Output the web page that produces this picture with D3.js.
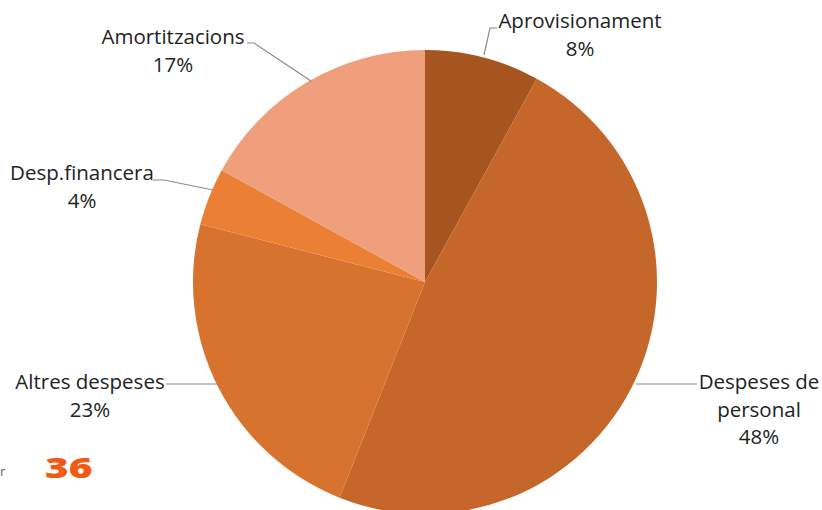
<!DOCTYPE html>
<html><head><meta charset="utf-8">
<script src="https://cdn.jsdelivr.net/npm/d3@7"></script>
<style>
html,body{margin:0;padding:0;background:#fff;overflow:hidden;}
svg{display:block;}
text{font-family:"Open Sans","Noto Sans",sans-serif;fill:#222;}
</style></head>
<body>
<svg id="chart" width="822" height="510"></svg>
<script>
const categories = ["Aprovisionament","Despeses de personal","Altres despeses","Desp.financera","Amortitzacions"];
const values = [8, 48, 23, 4, 17];
const percentLabels = ["8%","48%","23%","4%","17%"];
const colors = ["#A65420","#C5662A","#D8732F","#EB8035","#EF9F7B"];
const labelLines = [["Aprovisionament"],["Despeses de","personal"],["Altres despeses"],["Desp.financera"],["Amortitzacions"]];

const svg = d3.select("#chart");
const cx = 425, cy = 282, R = 232;
const data = categories.map((c,i)=>({name:c, value:values[i], color:colors[i], pct:percentLabels[i], lines:labelLines[i]}));

const pie = d3.pie().value(d=>d.value).sort(null);
const arc = d3.arc().innerRadius(0).outerRadius(R);
const arcs = pie(data);

const g = svg.append("g").attr("transform",`translate(${cx},${cy})`);
g.selectAll("path").data(arcs).join("path")
  .attr("d",arc).attr("fill",d=>d.data.color);

const labelPos = [
  {x:580, y:28, line:[[497,28],[490,28],[484,55]]},
  {x:759, y:389, line:[[697,384],[636,384]]},
  {x:90, y:389, line:[[166,384],[218,384]]},
  {x:82, y:180, line:[[153,180],[164,180],[213,190]]},
  {x:173, y:44, line:[[247,43],[254,43],[311,81]]}
];

const lineGen = d3.line();
arcs.forEach((a,i)=>{
  const p = labelPos[i];
  svg.append("path").attr("d",lineGen(p.line))
    .attr("fill","none").attr("stroke","#8a8a8a").attr("stroke-width",1.2);
  const t = svg.append("text").attr("text-anchor","middle").attr("font-size",20.5);
  const lines = a.data.lines.concat([a.data.pct]);
  lines.forEach((l,j)=>{
    t.append("tspan").attr("x",p.x).attr("y",p.y + j*27.5).text(l);
  });
});

svg.append("text").attr("transform","translate(45,478) scale(1.4,1)")
  .style("font-family","'Open Sans',sans-serif").style("font-weight","800")
  .attr("font-size",29).style("fill","#F25A13").text("36");
svg.append("text").attr("x",0).attr("y",476).attr("font-size",13).style("fill","#666").text("r");
</script>
</body></html>
